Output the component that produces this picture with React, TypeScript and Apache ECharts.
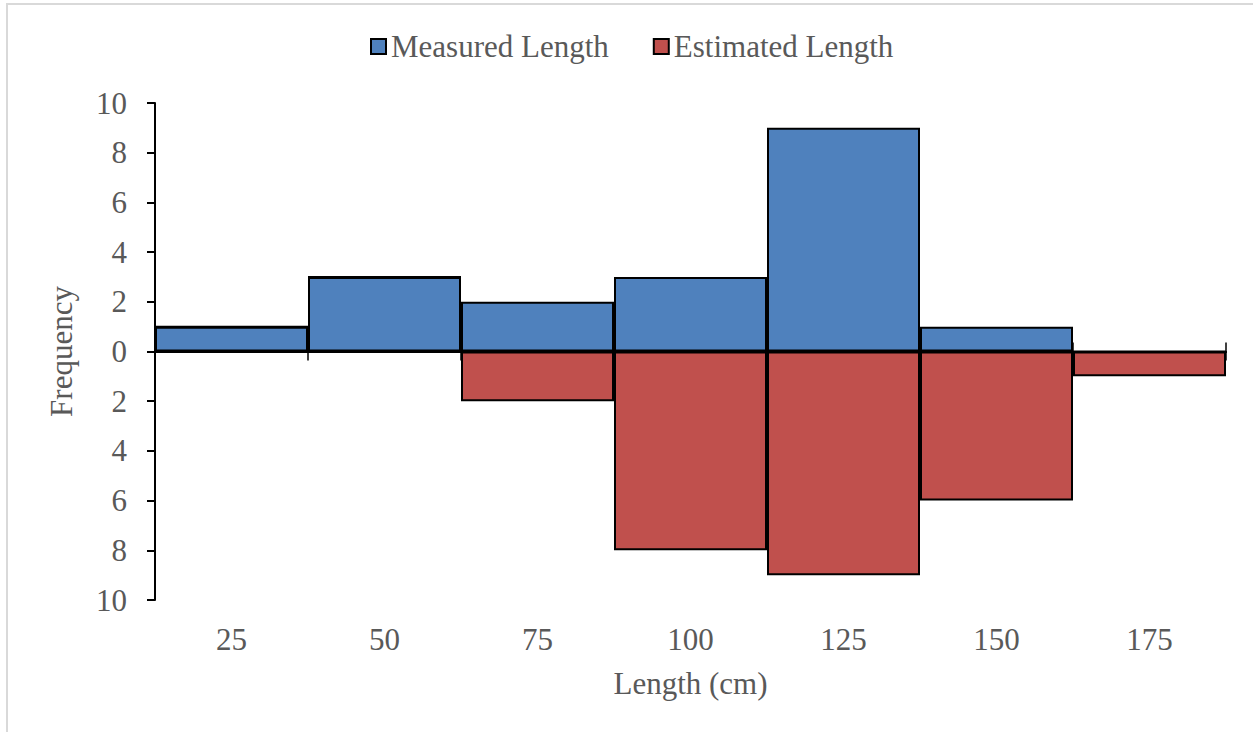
import React, { useEffect, useRef } from "react";
import * as echarts from "echarts";

const categories = ["25", "50", "75", "100", "125", "150", "175"];
const measured = [1, 3, 2, 3, 9, 1, 0];
const estimated = [0, 0, 2, 8, 9, 6, 1];
const yTicks = { min: -10, max: 10, interval: 2 };

const FONT = '"Liberation Serif", "Times New Roman", serif';
const GRAY = "#595959";

export default function App() {
  const ref = useRef<HTMLDivElement>(null);
  useEffect(() => {
    if (!ref.current) return;
    const chart = echarts.init(ref.current, null, { renderer: "svg" });
    chart.setOption({
      animation: false,
      backgroundColor: "#ffffff",
      textStyle: { fontFamily: FONT },
      graphic: [
        {
          type: "rect",
          shape: { x: 7, y: 4, width: 1400, height: 900 },
          style: { fill: "none", stroke: "#d9d9d9", lineWidth: 2 },
          silent: true,
        },
      ],
      legend: {
        left: 365,
        top: 26,
        itemWidth: 15,
        itemHeight: 15,
        itemGap: 44,
        icon: "rect",
        textStyle: { fontFamily: FONT, fontSize: 31, color: GRAY, padding: [0, 0, 0, 0] },
        data: ["Measured Length", "Estimated Length"],
      },
      grid: { left: 155, right: 27, top: 103, bottom: 132 },
      xAxis: [
        {
          type: "category",
          data: categories,
          position: "bottom",
          axisLine: { show: false, onZero: false },
          axisTick: { show: false },
          axisLabel: { fontFamily: FONT, fontSize: 31, color: GRAY, margin: 24 },
          name: "Length (cm)",
          nameLocation: "middle",
          nameGap: 68,
          nameTextStyle: { fontFamily: FONT, fontSize: 31, color: GRAY },
        },
        {
          type: "category",
          data: categories,
          position: "bottom",
          axisLine: { show: true, onZero: true, onZeroAxisIndex: 0, lineStyle: { color: "#000", width: 2 } },
          axisTick: { show: true, length: 9, lineStyle: { color: "#000", width: 1.5 } },
          axisLabel: { show: false },
        },
        {
          type: "category",
          data: categories,
          position: "top",
          axisLine: { show: true, onZero: true, onZeroAxisIndex: 0, lineStyle: { color: "#000", width: 2 } },
          axisTick: { show: true, length: 9, lineStyle: { color: "#000", width: 1.5 } },
          axisLabel: { show: false },
        },
      ],
      yAxis: {
        type: "value",
        min: yTicks.min,
        max: yTicks.max,
        interval: yTicks.interval,
        splitLine: { show: false },
        axisLine: { show: true, lineStyle: { color: "#000", width: 2 } },
        axisTick: { show: true, length: 8, lineStyle: { color: "#000", width: 2 } },
        axisLabel: {
          fontFamily: FONT,
          fontSize: 31,
          color: GRAY,
          margin: 28,
          formatter: (v: number) => String(Math.abs(v)),
        },
        name: "Frequency",
        nameLocation: "middle",
        nameGap: 78,
        nameTextStyle: { fontFamily: FONT, fontSize: 31, color: GRAY },
      },
      series: [
        {
          name: "Measured Length",
          type: "bar",
          stack: "hist",
          barWidth: "100%",
          data: measured,
          itemStyle: { color: "#4F81BD", borderColor: "#000", borderWidth: 2 },
        },
        {
          name: "Estimated Length",
          type: "bar",
          stack: "hist",
          barWidth: "100%",
          data: estimated.map((v) => -v),
          itemStyle: { color: "#C0504D", borderColor: "#000", borderWidth: 2 },
        },
      ],
    });
    return () => chart.dispose();
  }, []);
  return (
    <div
      ref={ref}
      style={{ position: "fixed", left: 0, top: 0, width: 1253, height: 732 }}
    />
  );
}
